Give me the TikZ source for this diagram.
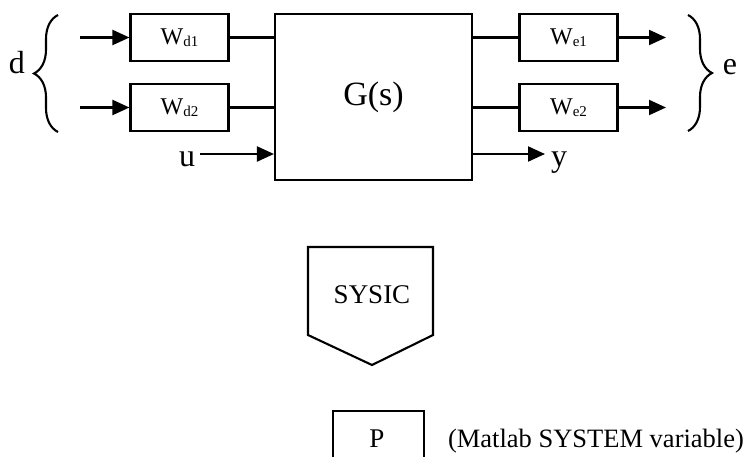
\documentclass[tikz,border=0pt]{standalone}
\usepackage{fontspec}
\setmainfont{Liberation Serif}
\usetikzlibrary{arrows.meta,decorations.pathreplacing}
\newcommand{\fs}[1]{\fontsize{#1}{#1}\selectfont}
\newcommand{\sbx}[1]{\raisebox{-2pt}{\fs{15}#1}}
\begin{document}
\begin{tikzpicture}[x=1pt,y=-1pt,
  line width=2.1pt,
  blk/.style={draw,rectangle,inner sep=0pt,line width=2.1pt},
  wbox/.style={blk,minimum width=98pt,minimum height=47pt,font=\fs{24}},
  lbl/.style={inner sep=0pt,anchor=base,font=\fs{32}},
  arr/.style={-{Triangle[length=17pt,width=15pt]}},
  brc/.style={decorate,decoration={brace,amplitude=24pt},line width=2.1pt}]
\useasboundingbox (0,0) rectangle (752,457);
% main block
\node[blk,minimum width=197pt,minimum height=166pt,font=\fs{34}] (G) at (373.5,97) {G(s)};
% weight boxes
\node[wbox] (wd1) at (179.5,37.5) {W\sbx{d1}};
\node[wbox] (wd2) at (179.5,107.5) {W\sbx{d2}};
\node[wbox] (we1) at (568.5,37.5) {W\sbx{e1}};
\node[wbox] (we2) at (568.5,107.5) {W\sbx{e2}};
% free ends
\coordinate (in1) at (80,37.5);
\coordinate (in2) at (80,107.5);
\coordinate (out1) at (666,37.5);
\coordinate (out2) at (666,107.5);
\coordinate (uin) at (200,154);
\coordinate (yout) at (545,154);
% labels
\node[lbl] (d) at (17,74) {d};
\node[lbl] (e) at (730,75) {e};
\node[lbl] (u) at (187,167) {u};
\node[lbl] (y) at (559,167) {y};
% connectors
\draw[arr] (in1) -- (wd1.west);
\draw[arr] (in2) -- (wd2.west);
\draw (wd1.east) -- (wd1.east -| G.west);
\draw (wd2.east) -- (wd2.east -| G.west);
\draw (we1.west -| G.east) -- (we1.west);
\draw (we2.west -| G.east) -- (we2.west);
\draw[arr] (we1.east) -- (out1);
\draw[arr] (we2.east) -- (out2);
\draw[arr] (uin) -- (uin -| G.west);
\draw[arr] (yout -| G.east) -- (yout);
% braces
\coordinate (lb1) at (58,132);
\coordinate (lb2) at (58,15);
\coordinate (rb1) at (688,15);
\coordinate (rb2) at (688,131);
\draw[brc] (lb1) -- (lb2);
\draw[brc] (rb1) -- (rb2);
% SYSIC pentagon
\draw[line join=miter] (308,247) -- (433,247) -- (433,335) -- (372,365) -- (308,335) -- cycle;
\node[lbl,font=\fs{27}] (sysic) at (372,303) {SYSIC};
% P box (open at the bottom edge of the picture)
\draw (333,457) -- (333,411) -- (424,411) -- (424,457);
\node[lbl,font=\fs{27}] (P) at (377,447) {P};
\node[inner sep=0pt,anchor=base west,font=\fs{26.5}] (ml) at (447,447) {(Matlab SYSTEM variable)};
\end{tikzpicture}
\end{document}
